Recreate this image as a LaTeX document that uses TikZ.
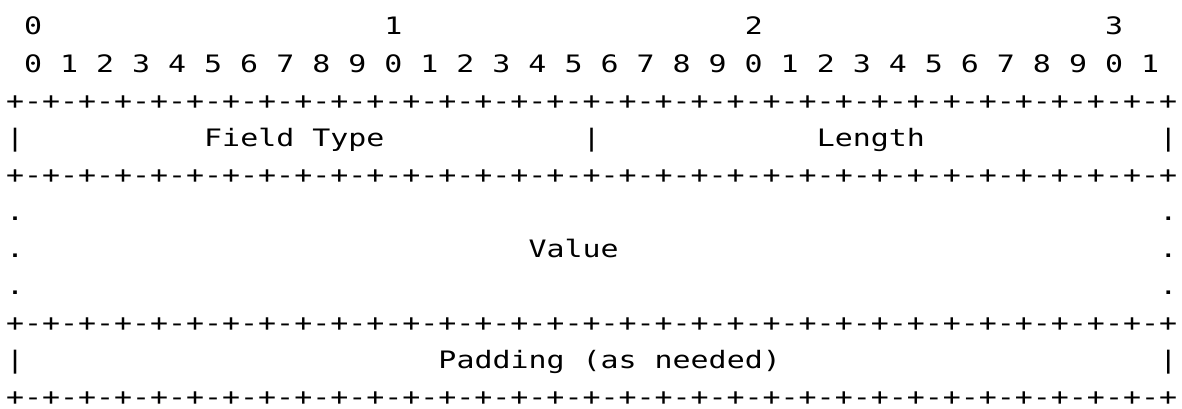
\documentclass[tikz,border=0pt]{standalone}
\usepackage{fontspec}
\newfontfamily\asciifont[FakeStretch=1.247]{DejaVu Sans Mono}
\usetikzlibrary{calc}

\def\cw{18.02pt}  % one character
\def\lh{37.07pt}  % one line
\def\border{+-+-+-+-+-+-+-+-+-+-+-+-+-+-+-+-+-+-+-+-+-+-+-+-+-+-+-+-+-+-+-+-+}

\begin{document}
\begin{tikzpicture}[
  ascii/.style={anchor=base west, inner sep=0pt, outer sep=0pt,
    font=\asciifont\fontsize{24}{24}\selectfont}]

\useasboundingbox[fill=white] (0,0) rectangle (1182pt,-409pt);

%BIT RULER
\foreach \d/\c in {0/1,1/21,2/41,3/61}
  \node[ascii] (tens\d) at ({6pt+\cw*\c},{-35pt}) {\d};
\node[ascii] (ruler) at ({6pt+\cw*1},{-35pt-\lh}) {0 1 2 3 4 5 6 7 8 9 0 1 2 3 4 5 6 7 8 9 0 1 2 3 4 5 6 7 8 9 0 1};

%BORDERS
\foreach \r in {2,4,8,10}
  \node[ascii] (border\r) at ({6pt},{-35pt-\lh*\r}) {\border};

%FIELD TYPE / LENGTH
\foreach \c in {0,32,64}
  \node[ascii] (bar\c) at ({6pt+\cw*\c},{-35pt-\lh*3}) {|};
\node[ascii] (ftype) at ({6pt+\cw*11},{-35pt-\lh*3}) {Field Type};
\node[ascii] (length) at ({6pt+\cw*45},{-35pt-\lh*3}) {Length};

%VALUE
\foreach \r in {5,6,7}{
  \node[ascii] (ldot\r) at ({6pt},{-35pt-\lh*\r}) {.};
  \node[ascii] (rdot\r) at ({6pt+\cw*64},{-35pt-\lh*\r}) {.};
}
\node[ascii] (value) at ({6pt+\cw*29},{-35pt-\lh*6}) {Value};

%PADDING
\node[ascii] (lpad) at ({6pt},{-35pt-\lh*9}) {|};
\node[ascii] (rpad) at ({6pt+\cw*64},{-35pt-\lh*9}) {|};
\node[ascii] (padding) at ({6pt+\cw*24},{-35pt-\lh*9}) {Padding (as needed)};

\end{tikzpicture}
\end{document}
